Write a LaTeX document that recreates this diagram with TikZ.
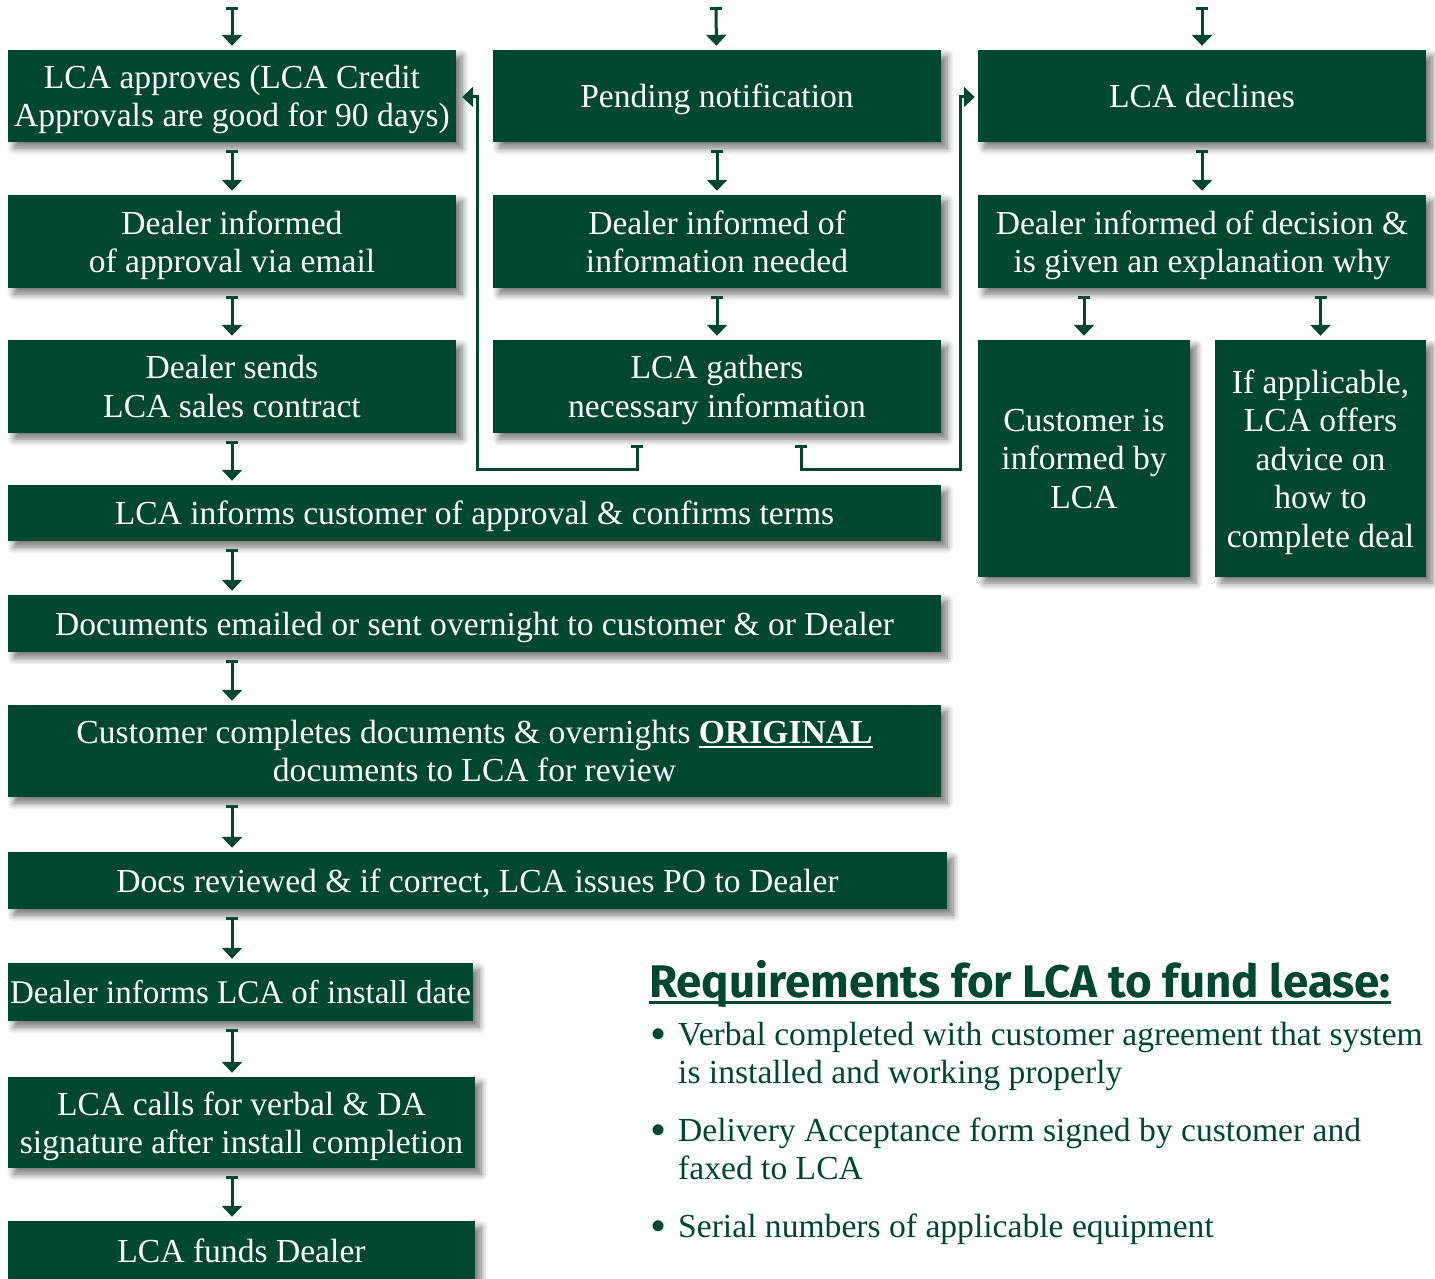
\documentclass[tikz,border=0pt]{standalone}
\usepackage{fontspec}
\setmainfont{Liberation Serif}
\newfontfamily\headfont{Fira Sans}
\newcommand\lcaul[1]{\setbox0\hbox{#1}\rlap{\rule[-5pt]{\wd0}{2pt}}\box0}
\newcommand\lcabullet{\makebox[12pt][c]{\raisebox{-4.5pt}{\fontsize{46}{38.5}\selectfont\textbullet}}}
\usetikzlibrary{arrows.meta,shadows.blur}
\definecolor{lcagreen}{HTML}{00472F}
\begin{document}
\begin{tikzpicture}[x=1pt,y=-1pt,
  box/.style={fill=lcagreen, text=white, inner sep=0pt, align=center, text depth=0pt,
    font=\fontsize{33.6}{38.5}\selectfont,
    blur shadow={shadow xshift=6pt, shadow yshift=-6pt, shadow blur radius=7pt, shadow blur steps=8, shadow opacity=55}},
  flow/.style={draw=lcagreen, line width=3pt,
    arrows={Bar[width=12pt]-Triangle[width=20pt,length=11pt]},
    shorten <=8pt, shorten >=4pt},
  loopline/.style={draw=lcagreen, line width=3pt,
    arrows={Bar[width=12pt]-Triangle[width=20pt,length=11pt]}},
  req/.style={text=lcagreen, inner sep=0pt, anchor=base west,
    font=\fontsize{33.6}{38.5}\selectfont}
]
\useasboundingbox (0,0) rectangle (1435,1279);

% column 1
\node[box, minimum width=448pt, minimum height=92pt] (a1) at (232,96) {LCA approves (LCA Credit\\Approvals are good for 90 days)};
\node[box, minimum width=448pt, minimum height=93pt] (a2) at (232,241.5) {Dealer informed\\of approval via email};
\node[box, minimum width=448pt, minimum height=93pt] (a3) at (232,386.5) {Dealer sends\\LCA sales contract};
% column 2
\node[box, minimum width=448pt, minimum height=92pt] (b1) at (717,96) {Pending notification};
\node[box, minimum width=448pt, minimum height=93pt] (b2) at (717,241.5) {Dealer informed of\\information needed};
\node[box, minimum width=448pt, minimum height=93pt] (b3) at (717,386.5) {LCA gathers\\necessary information};
% column 3
\node[box, minimum width=448pt, minimum height=92pt] (c1) at (1202,96) {LCA declines};
\node[box, minimum width=448pt, minimum height=93pt] (c2) at (1202,241.5) {Dealer informed of decision \&\\is given an explanation why};
\node[box, minimum width=212pt, minimum height=237pt] (c3a) at (1084,458.5) {Customer is\\informed by\\LCA};
\node[box, minimum width=211pt, minimum height=237pt] (c3b) at (1320.5,458.5) {If applicable,\\LCA offers\\advice on\\how to\\complete deal};
% wide rows
\node[box, minimum width=933pt, minimum height=56pt] (d) at (474.5,513) {LCA informs customer of approval \& confirms terms};
\node[box, minimum width=933pt, minimum height=57pt] (e) at (474.5,623.5) {Documents emailed or sent overnight to customer \& or Dealer};
\node[box, minimum width=933pt, minimum height=92pt] (f) at (474.5,751) {Customer completes documents \& overnights \lcaul{\bfseries ORIGINAL}\\documents to LCA for review};
\node[box, minimum width=939pt, minimum height=57pt] (g) at (477.5,880.5) {Docs reviewed \& if correct, LCA issues PO to Dealer};
\node[box, minimum width=465pt, minimum height=58pt, font=\fontsize{33}{38.5}\selectfont] (h) at (240.5,992) {Dealer informs LCA of install date};
\node[box, minimum width=467pt, minimum height=91pt] (i) at (241.5,1122.5) {LCA calls for verbal \& DA\\signature after install completion};
\node[box, minimum width=467pt, minimum height=60pt] (j) at (241.5,1251) {LCA funds Dealer};

% entry arrows
\coordinate (t1) at (232,7);
\coordinate (t2) at (716,7);
\coordinate (t3) at (1202,7);
\draw[flow, shorten <=0pt] (t1) -- (a1);
\draw[flow, shorten <=0pt] (t2) -- (b1);
\draw[flow, shorten <=0pt] (t3) -- (c1);

% vertical flow arrows
\draw[flow] (a1.south) -- (a2.north);
\draw[flow] (a2.south) -- (a3.north);
\draw[flow] (a3.south) -- (a3.south |- d.north);
\draw[flow] (b1.south) -- (b2.north);
\draw[flow] (b2.south) -- (b3.north);
\draw[flow] (c1.south) -- (c2.north);
\draw[flow] (c2.south -| c3a) -- (c3a.north);
\draw[flow] (c2.south -| c3b) -- (c3b.north);
\draw[flow] (d.south -| a1) -- (e.north -| a1);
\draw[flow] (e.south -| a1) -- (f.north -| a1);
\draw[flow] (f.south -| a1) -- (g.north -| a1);
\draw[flow] (g.south -| a1) -- (h.north -| a1);
\draw[flow] (h.south -| a1) -- (i.north -| a1);
\draw[flow] (i.south -| a1) -- (j.north -| a1);

% feedback loops from LCA gathers information
\draw[loopline, shorten >=6pt] ([xshift=-80pt,yshift=-12pt]b3.south) -- ++(0,24) -| ([xshift=21pt,yshift=-1pt]a1.east) -- ([yshift=-1pt]a1.east);
\draw[loopline, shorten >=3pt] ([xshift=84pt,yshift=-12pt]b3.south) -- ++(0,24) -| ([xshift=-17pt,yshift=-1pt]c1.west) -- ([yshift=-1pt]c1.west);

% requirements
\node[text=lcagreen, inner sep=0pt, anchor=base west, font=\headfont\bfseries\fontsize{45.7}{50}\selectfont] (head) at (649,997) {Requirements for LCA to fund lease:};
\draw[lcagreen, line width=3pt] ([yshift=-5pt]head.base west) -- ([yshift=-5pt]head.base east);
\node[req] (r1) at (652,1045) {\begin{tabular}[t]{@{}l@{\hspace{14pt}}l@{}}\lcabullet & Verbal completed with customer agreement that system\\ & is installed and working properly\end{tabular}};
\node[req] (r2) at (652,1141) {\begin{tabular}[t]{@{}l@{\hspace{14pt}}l@{}}\lcabullet & Delivery Acceptance form signed by customer and\\ & faxed to LCA\end{tabular}};
\node[req] (r3) at (652,1237) {\begin{tabular}[t]{@{}l@{\hspace{14pt}}l@{}}\lcabullet & Serial numbers of applicable equipment\end{tabular}};
\end{tikzpicture}
\end{document}
